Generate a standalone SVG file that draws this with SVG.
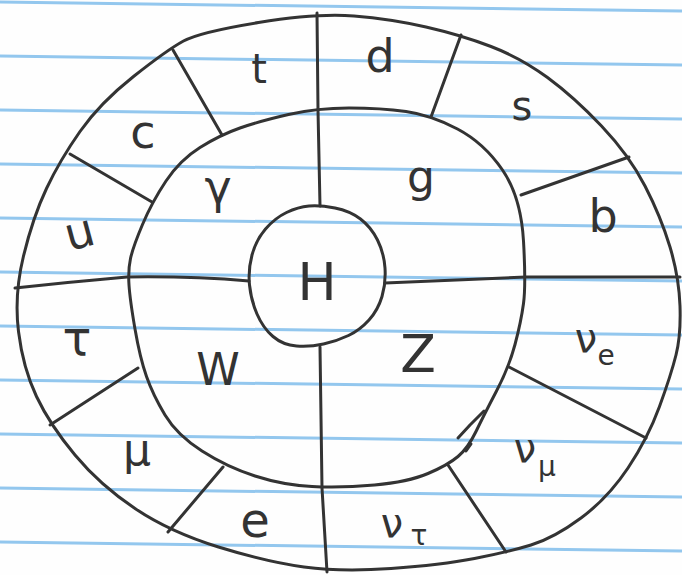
<svg xmlns="http://www.w3.org/2000/svg" width="682" height="575" viewBox="0 0 682 575">
  <style>
    .rule { stroke: #93c7ee; stroke-width: 3; fill: none; }
    .pen { stroke: #333333; stroke-width: 3; fill: none; stroke-linecap: round; stroke-linejoin: round; }
    .lbl { font-family: "DejaVu Sans", "Liberation Sans", sans-serif; fill: #333333; text-anchor: middle; }
    .sub { font-size: 28px; }
  </style>
  <rect x="0" y="0" width="682" height="575" fill="#fefefe"/>
  <g id="paper-rules">
    <line class="rule" x1="0" y1="2" x2="682" y2="11"/>
    <line class="rule" x1="0" y1="56" x2="682" y2="65"/>
    <line class="rule" x1="0" y1="110" x2="682" y2="119"/>
    <line class="rule" x1="0" y1="164" x2="682" y2="173"/>
    <line class="rule" x1="0" y1="218" x2="682" y2="227"/>
    <line class="rule" x1="0" y1="272" x2="682" y2="281"/>
    <line class="rule" x1="0" y1="326" x2="682" y2="335"/>
    <line class="rule" x1="0" y1="380" x2="682" y2="389"/>
    <line class="rule" x1="0" y1="434" x2="682" y2="443"/>
    <line class="rule" x1="0" y1="488" x2="682" y2="497"/>
    <line class="rule" x1="0" y1="542" x2="682" y2="551"/>
  </g>
  <g id="rings">
    <path id="outer-ring" class="pen" d="M 354,16 Q 391,19 426,27 Q 461,35 491,46.5 Q 521,58 547.5,77.5 Q 574,97 601.5,126 Q 629,155 645,186 Q 661,217 670,247 Q 679,277 680,306 Q 681,335 676,355 Q 671,375 659.5,406.5 Q 648,438 628,468 Q 608,498 581,518 Q 554,538 531,545 Q 508,552 474.5,558.5 Q 441,565 391,568.5 Q 341,572 304,567 Q 267,562 218.5,547 Q 170,532 135,508.5 Q 100,485 75,455 Q 50,425 36.5,396.5 Q 23,368 18.5,331.5 Q 14,295 23.5,256 Q 33,217 46.5,188.5 Q 60,160 80,131.5 Q 100,103 133.5,76.5 Q 167,50 183.5,41 Q 200,32 258.5,22.5 Q 317,13 354,16 Z"/>
    <path id="middle-ring" class="pen" d="M 349,108 Q 381,108 406,111.5 Q 431,115 457.5,129 Q 484,143 502.5,170 Q 521,197 523.5,241 Q 526,285 523.5,303.5 Q 521,322 515,344.5 Q 509,367 496.5,391 Q 484,415 476,431.5 Q 468,448 458,456.5 Q 448,465 428,473.5 Q 408,482 374.5,485 Q 341,488 312,486.5 Q 283,485 255,476 Q 227,467 202,451 Q 177,435 165,415 Q 153,395 146.5,376.5 Q 140,358 135,329 Q 130,300 129,285 Q 128,270 130.5,258.5 Q 133,247 142.5,224.5 Q 152,202 166,181 Q 180,160 200,147.5 Q 220,135 240,128 Q 260,121 288.5,114.5 Q 317,108 349,108 Z"/>
    <path id="stray-mark" class="pen" d="M 458,438 L 470,425 L 484,411 M 466,451 L 471,444"/>
  </g>
  <g id="connectors">
    <path class="pen" d="M 317,13 L 318,110 L 320,206"/>
    <path class="pen" d="M 320,347 L 322,488 L 327,572"/>
    <path class="pen" d="M 15,288 Q 70,282 127,277 Q 190,276 249,281"/>
    <path class="pen" d="M 385,283 L 526,277 L 680,277"/>
    <path class="pen" d="M 173,50 L 222,135"/>
    <path class="pen" d="M 70,154 L 152,202"/>
    <path class="pen" d="M 461,35 L 431,117"/>
    <path class="pen" d="M 629,157 L 521,195"/>
    <path class="pen" d="M 509,367 L 646,438"/>
    <path class="pen" d="M 448,465 L 506,552"/>
    <path class="pen" d="M 223,467 L 168,532"/>
    <path class="pen" d="M 138,368 L 50,425"/>
  </g>
  <g id="node-H">
    <path class="pen" d="M 335,208 Q 350,211 360.5,219 Q 371,227 377.5,240 Q 384,253 385,268 Q 386,283 382,296.5 Q 378,310 369,320 Q 360,330 348.5,335.5 Q 337,341 323.5,344 Q 310,347 296.5,346 Q 283,345 273,336.5 Q 263,328 257,314 Q 251,300 249.5,285 Q 248,270 252,255 Q 256,240 265.5,229 Q 275,218 286.5,212.5 Q 298,207 309,206 Q 320,205 335,208 Z"/>
    <text class="lbl" x="317" y="300" font-size="52">H</text>
  </g>
  <g id="node-t"><text class="lbl" x="259" y="83" font-size="40">t</text></g>
  <g id="node-c"><text class="lbl" x="143" y="148" font-size="46">c</text></g>
  <g id="node-u"><text class="lbl" x="80" y="248" font-size="46" transform="rotate(-15 80 235)">u</text></g>
  <g id="node-gamma"><text class="lbl" x="218" y="203" font-size="46">γ</text></g>
  <g id="node-d"><text class="lbl" x="380" y="72" font-size="46">d</text></g>
  <g id="node-s"><text class="lbl" x="522" y="120" font-size="40">s</text></g>
  <g id="node-g"><text class="lbl" x="421" y="192" font-size="44">g</text></g>
  <g id="node-b"><text class="lbl" x="603" y="232" font-size="46">b</text></g>
  <g id="node-tau"><text class="lbl" x="77" y="355" font-size="48">τ</text></g>
  <g id="node-W"><text class="lbl" x="218" y="385" font-size="44">W</text></g>
  <g id="node-mu"><text class="lbl" x="137" y="465" font-size="44">μ</text></g>
  <g id="node-e"><text class="lbl" x="255" y="537" font-size="48">e</text></g>
  <g id="node-Z"><text class="lbl" x="418" y="372" font-size="52">Z</text></g>
  <g id="node-nu-e"><text class="lbl" x="586" y="352" font-size="40">ν</text><text class="lbl sub" x="606" y="365">e</text></g>
  <g id="node-nu-mu"><text class="lbl" x="525" y="462" font-size="40">ν</text><text class="lbl sub" x="547" y="476">μ</text></g>
  <g id="node-nu-tau"><text class="lbl" x="392" y="537" font-size="40">ν</text><text class="lbl sub" x="419" y="545" font-size="30">τ</text></g>
</svg>
